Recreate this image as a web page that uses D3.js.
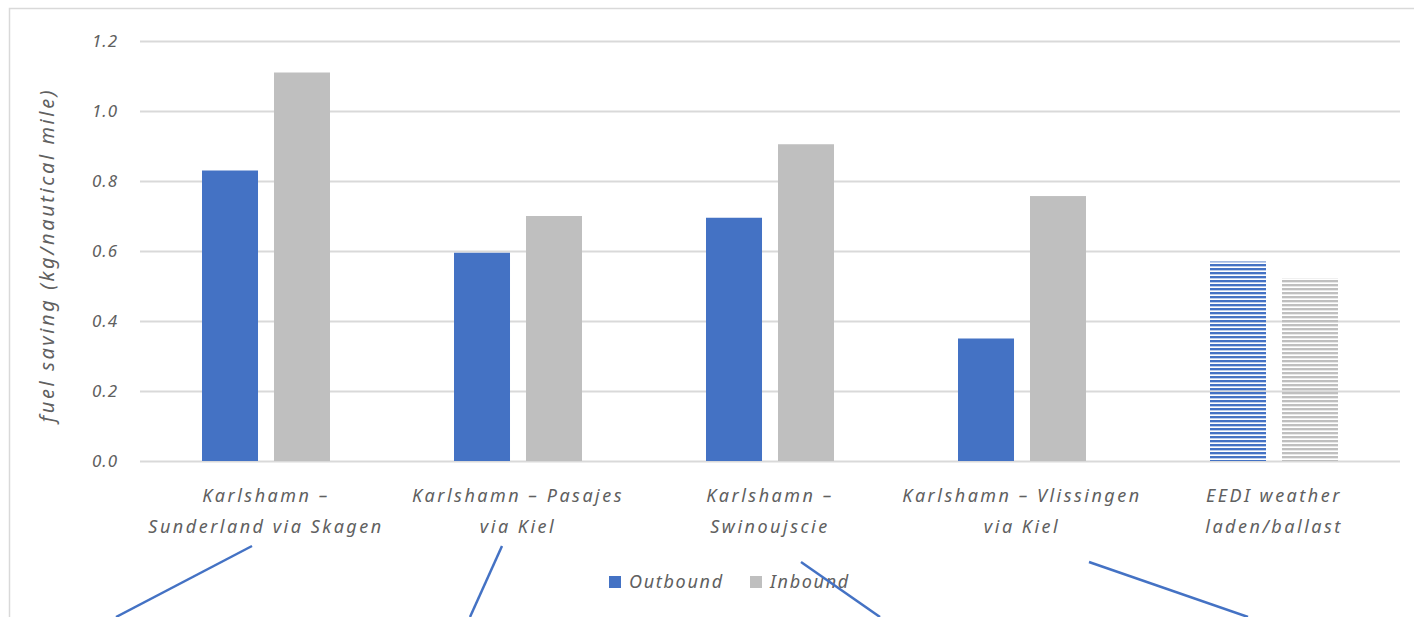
<!DOCTYPE html>
<html>
<head>
<meta charset="utf-8">
<script src="https://cdn.jsdelivr.net/npm/d3@7"></script>
<style>
  html, body { margin: 0; padding: 0; background: #fff; }
  svg { display: block; }
  text { font-family: "Noto Sans", sans-serif; font-style: italic; fill: #606060; }
</style>
</head>
<body>
<svg id="chart" width="1414" height="617"></svg>
<script>
// Route categories (each label split over two lines)
const categories = [
  ["Karlshamn –", "Sunderland via Skagen"],
  ["Karlshamn – Pasajes", "via Kiel"],
  ["Karlshamn –", "Swinoujscie"],
  ["Karlshamn – Vlissingen", "via Kiel"],
  ["EEDI weather", "laden/ballast"]
];
const seriesNames = ["Outbound", "Inbound"];
const outbound = [0.83, 0.595, 0.695, 0.35, 0.57];
const inbound  = [1.11, 0.70, 0.905, 0.757, 0.522];
const yTicks = [0.0, 0.2, 0.4, 0.6, 0.8, 1.0, 1.2];
// The last category is an estimate and is drawn hatched
const hatched = [false, false, false, false, true];

const colors = { Outbound: "#4472C4", Inbound: "#BFBFBF" };

const svg = d3.select("#chart");
const W = 1414, H = 617;
const plot = { left: 140, right: 1400, top: 41, bottom: 461 };

// outer chart frame
svg.append("rect")
  .attr("x", 9.5).attr("y", 8.5)
  .attr("width", W + 20).attr("height", H + 20)
  .attr("fill", "none").attr("stroke", "#D9D9D9").attr("stroke-width", 1.5);

// horizontal-stripe patterns for estimated bars
const defs = svg.append("defs");
seriesNames.forEach(s => {
  const p = defs.append("pattern")
    .attr("id", "stripe-" + s)
    .attr("patternUnits", "userSpaceOnUse")
    .attr("width", 8).attr("height", 4);
  p.append("rect").attr("x", 0).attr("y", 0).attr("width", 8).attr("height", 2)
    .attr("fill", colors[s]);
  p.append("rect").attr("x", 0).attr("y", 2).attr("width", 8).attr("height", 1)
    .attr("fill", colors[s]).attr("opacity", 0.35);
});

const keys = d3.range(categories.length);
const x0 = d3.scaleBand().domain(keys).range([plot.left, plot.right]).padding(0);
const x1 = d3.scaleBand().domain(seriesNames)
  .range([(x0.bandwidth() - 128) / 2, (x0.bandwidth() + 128) / 2])
  .paddingInner(0.222).paddingOuter(0);
const y = d3.scaleLinear().domain([0, 1.2]).range([plot.bottom, plot.top]);

// gridlines
svg.append("g")
  .selectAll("line")
  .data(yTicks)
  .join("line")
  .attr("x1", plot.left).attr("x2", plot.right)
  .attr("y1", d => Math.round(y(d)) + 0.5).attr("y2", d => Math.round(y(d)) + 0.5)
  .attr("stroke", "#D9D9D9").attr("stroke-width", 2);

// y axis tick labels
const yAxis = d3.axisLeft(y).tickValues(yTicks).tickFormat(d3.format(".1f")).tickSize(0).tickPadding(0);
const gy = svg.append("g").attr("transform", `translate(118,0)`).call(yAxis);
gy.select(".domain").remove();
gy.selectAll("text")
  .attr("font-size", 17).attr("fill", "#606060")
  .attr("letter-spacing", 1)
  .style("font-family", '"Noto Sans", sans-serif').style("font-style", "italic");

// y axis title
svg.append("text")
  .attr("transform", `translate(54,${(plot.top + plot.bottom) / 2 + 4}) rotate(-90)`)
  .attr("text-anchor", "middle")
  .attr("font-size", 20)
  .attr("letter-spacing", 2.6)
  .text("fuel saving (kg/nautical mile)");

// bars
const rows = keys.map(i => ({ i, values: [
  { s: "Outbound", v: outbound[i] },
  { s: "Inbound", v: inbound[i] }
]}));
svg.append("g")
  .selectAll("g")
  .data(rows)
  .join("g")
  .attr("transform", d => `translate(${x0(d.i)},0)`)
  .selectAll("rect")
  .data(d => d.values.map(v => ({ ...v, i: d.i })))
  .join("rect")
  .attr("x", d => x1(d.s))
  .attr("width", x1.bandwidth())
  .attr("y", d => y(d.v))
  .attr("height", d => y(0) - y(d.v))
  .attr("fill", d => hatched[d.i] ? `url(#stripe-${d.s})` : colors[d.s]);

// category labels
const catG = svg.append("g");
keys.forEach(i => {
  const t = catG.append("text")
    .attr("x", x0(i) + x0.bandwidth() / 2)
    .attr("y", 502)
    .attr("text-anchor", "middle")
    .attr("font-size", 18)
    .attr("letter-spacing", 2.5);
  categories[i].forEach((line, k) => {
    t.append("tspan")
      .attr("x", x0(i) + x0.bandwidth() / 2)
      .attr("dy", k === 0 ? 0 : 31)
      .text(line);
  });
});

// legend
const legend = svg.append("g").attr("transform", "translate(609,582)");
const legendX = [0, 141];
seriesNames.forEach((s, k) => {
  const g = legend.append("g").attr("transform", `translate(${legendX[k]},0)`);
  g.append("rect").attr("x", 0).attr("y", -6).attr("width", 12).attr("height", 12).attr("fill", colors[s]);
  g.append("text").attr("x", 20).attr("y", 6).attr("font-size", 18).attr("letter-spacing", 1.7).text(s);
});

// connector lines leading from the categories to the panels below
const connectors = [
  { from: [252, 546], to: [116, 617] },
  { from: [502, 546], to: [470, 617] },
  { from: [801, 562], to: [880, 617] },
  { from: [1089, 562], to: [1248, 617] }
];
svg.append("g")
  .selectAll("line")
  .data(connectors)
  .join("line")
  .attr("x1", d => d.from[0]).attr("y1", d => d.from[1])
  .attr("x2", d => d.to[0]).attr("y2", d => d.to[1])
  .attr("stroke", "#4472C4").attr("stroke-width", 2.5);
</script>
</body>
</html>
